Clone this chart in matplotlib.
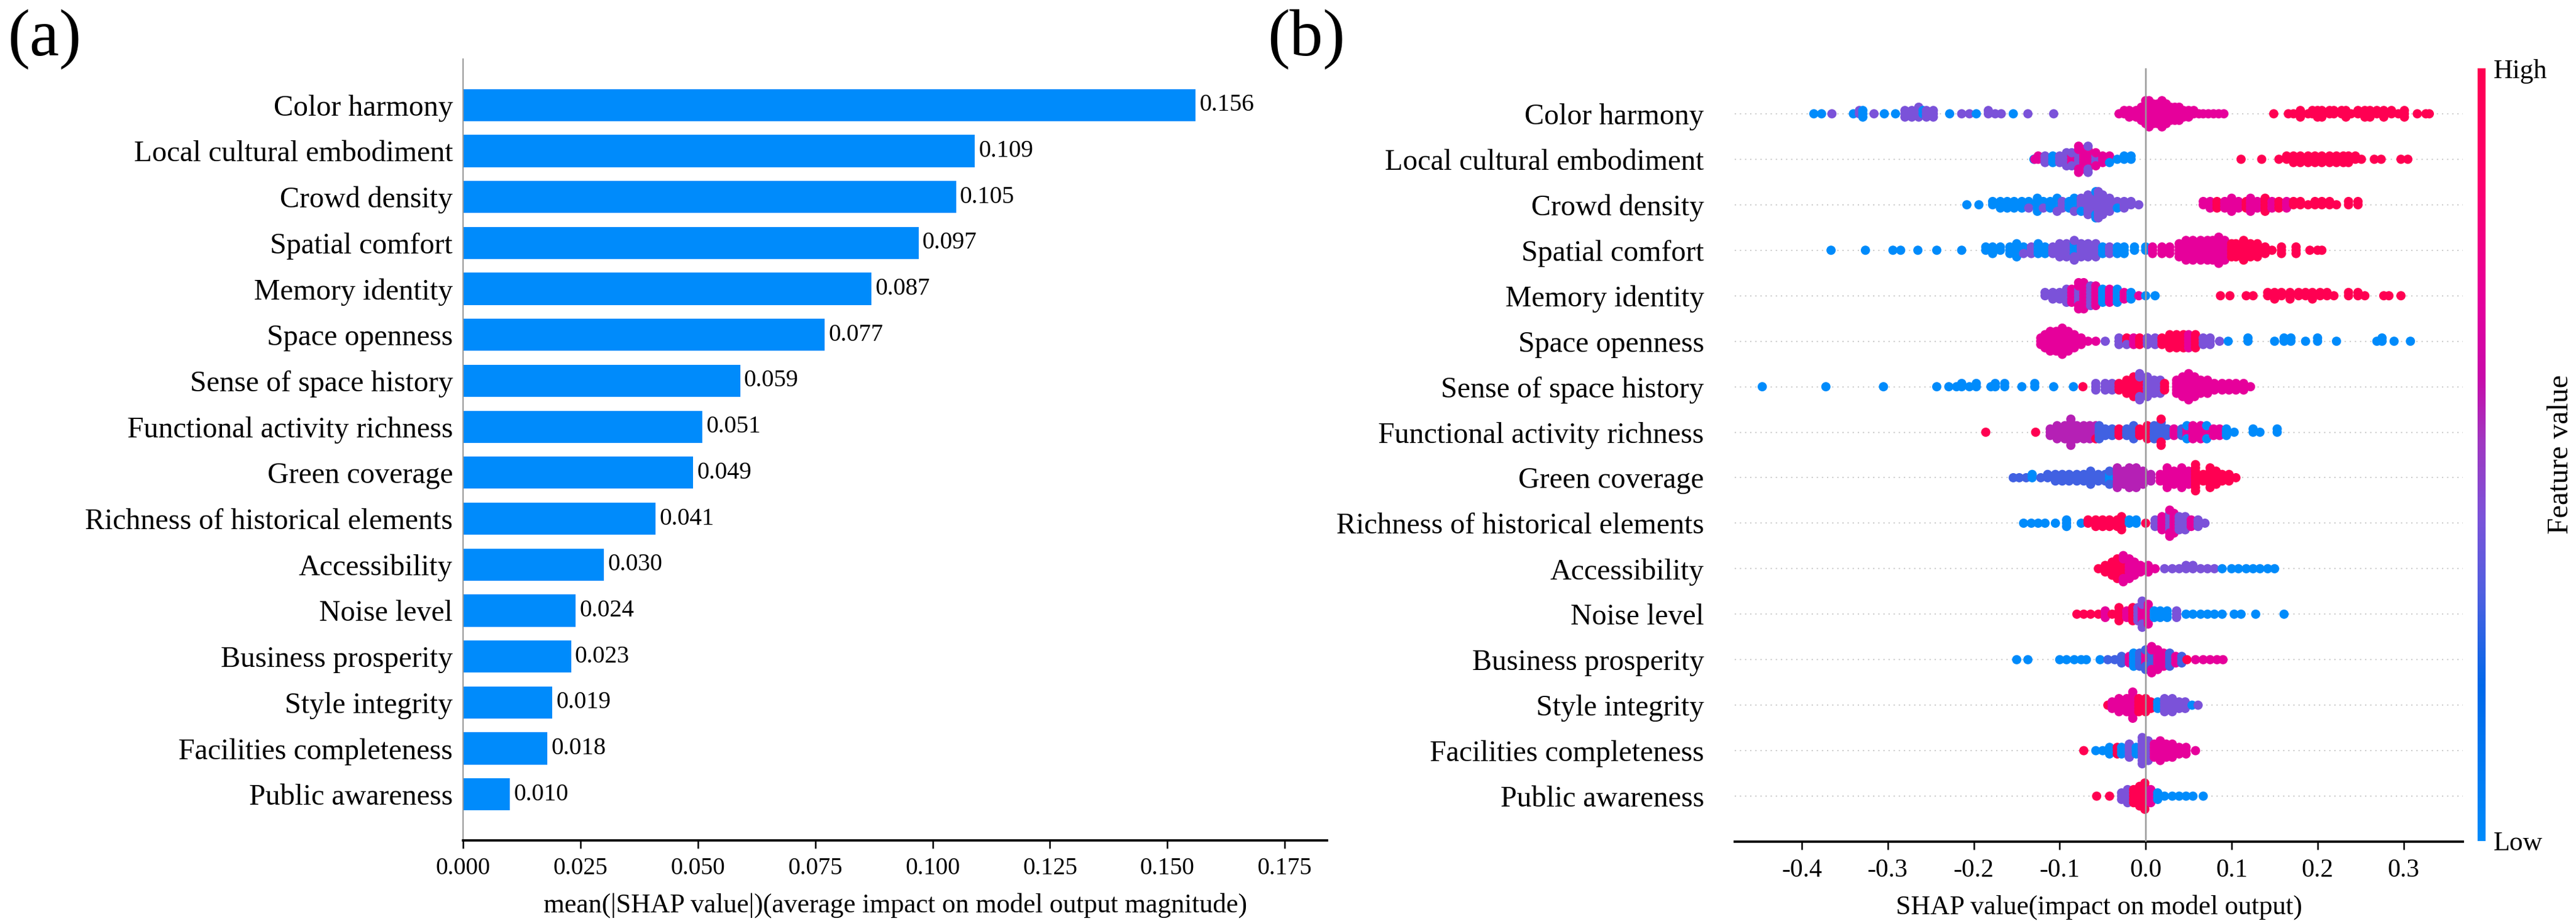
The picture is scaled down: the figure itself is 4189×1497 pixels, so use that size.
import numpy as np
import matplotlib
matplotlib.use("Agg")
import matplotlib.pyplot as plt
from matplotlib.colors import LinearSegmentedColormap
from matplotlib.cm import ScalarMappable

FONT = "Liberation Serif"
plt.rcParams["font.family"] = FONT
plt.rcParams["font.serif"] = [FONT, "DejaVu Serif"]
plt.rcParams["axes.unicode_minus"] = False

# =========================
# Data
# =========================
features = [
    "Color harmony", "Local cultural embodiment", "Crowd density", "Spatial comfort",
    "Memory identity", "Space openness", "Sense of space history",
    "Functional activity richness", "Green coverage", "Richness of historical elements",
    "Accessibility", "Noise level", "Business prosperity", "Style integrity",
    "Facilities completeness", "Public awareness",
]
mean_abs_shap = [0.156, 0.109, 0.105, 0.097, 0.087, 0.077, 0.059, 0.051,
                 0.049, 0.041, 0.030, 0.024, 0.023, 0.019, 0.018, 0.010]

B, V, P, M, K, R = 0.0, 0.3, 0.42, 0.56, 0.70, 1.0

# beeswarm points per feature: (shap value, number of points, feature value)
color_harmony = [
    (-0.386, 1, B), (-0.377, 1, B), (-0.365, 1, P), (-0.340, 1, B), (-0.333, 2, P), (-0.329, 3, B),
    (-0.316, 1, P), (-0.304, 1, B), (-0.291, 1, B), (-0.280, 3, P), (-0.272, 3, P), (-0.264, 4, P),
    (-0.259, 2, B), (-0.255, 3, P), (-0.247, 3, P), (-0.228, 1, B), (-0.214, 1, P), (-0.205, 1, P),
    (-0.197, 1, B), (-0.183, 2, P), (-0.175, 1, P), (-0.168, 1, P), (-0.154, 1, B), (-0.137, 1, P),
    (-0.107, 1, P),
    (-0.031, 1, K), (-0.025, 2, K), (-0.019, 3, K), (-0.011, 3, K), (-0.005, 5, K), (0.000, 8, K),
    (0.004, 9, K), (0.009, 7, K), (0.014, 7, K), (0.019, 9, K), (0.024, 7, K), (0.029, 5, K),
    (0.034, 5, K), (0.039, 5, K), (0.044, 3, K), (0.050, 3, K), (0.056, 2, K), (0.062, 1, K),
    (0.067, 1, K), (0.073, 1, K), (0.079, 1, K), (0.085, 1, K), (0.091, 1, K),
    (0.149, 1, R), (0.166, 1, R), (0.172, 1, R), (0.180, 3, R), (0.189, 1, R), (0.194, 2, R),
    (0.200, 3, R), (0.205, 3, R), (0.214, 2, R), (0.219, 2, R), (0.228, 2, R), (0.233, 3, R),
    (0.239, 1, R), (0.247, 2, R), (0.255, 3, R), (0.261, 3, R), (0.269, 2, R), (0.277, 3, R),
    (0.286, 2, R), (0.294, 1, R), (0.301, 3, R), (0.316, 1, R), (0.326, 1, R), (0.330, 1, R),
]
local_cultural = [
    (-0.130, 1, B), (-0.129, 1, K), (-0.125, 2, K), (-0.117, 3, P), (-0.108, 3, B), (-0.100, 3, P),
    (-0.092, 5, P), (-0.086, 3, K), (-0.086, 2, P), (-0.078, 5, P), (-0.078, 4, K), (-0.072, 7, K),
    (-0.067, 6, K), (-0.067, 3, P), (-0.058, 3, P), (-0.058, 2, K), (-0.050, 3, K), (-0.042, 2, K),
    (-0.042, 1, B), (-0.033, 1, B), (-0.025, 2, B), (-0.017, 2, B),
    (0.111, 1, R), (0.135, 1, R), (0.155, 1, R), (0.164, 2, R), (0.172, 3, R), (0.180, 3, R),
    (0.189, 3, R), (0.197, 3, R), (0.205, 3, R), (0.214, 3, R), (0.222, 3, R), (0.230, 3, R),
    (0.236, 3, R), (0.244, 2, R), (0.251, 1, R), (0.266, 1, R), (0.274, 1, R), (0.297, 1, R),
    (0.305, 1, R),
]
crowd_density = [
    (-0.208, 1, B), (-0.194, 1, B), (-0.178, 2, B), (-0.169, 3, B), (-0.161, 3, B), (-0.153, 3, B),
    (-0.144, 3, B), (-0.136, 2, B), (-0.136, 1, P), (-0.126, 5, B), (-0.119, 2, B), (-0.119, 1, P),
    (-0.111, 3, B), (-0.103, 4, B), (-0.103, 1, P), (-0.097, 3, P), (-0.089, 3, B), (-0.083, 4, B),
    (-0.083, 1, P), (-0.075, 4, P), (-0.075, 1, B), (-0.067, 7, P), (-0.058, 6, P), (-0.058, 3, B),
    (-0.055, 9, P), (-0.050, 7, P), (-0.042, 5, P), (-0.033, 2, P), (-0.033, 1, B), (-0.025, 3, P),
    (-0.017, 2, P), (-0.008, 1, P),
    (0.067, 2, K), (0.075, 3, K), (0.083, 3, R), (0.092, 3, K), (0.100, 5, K), (0.108, 3, K),
    (0.117, 3, R), (0.122, 5, K), (0.130, 3, K), (0.139, 5, R), (0.147, 3, K), (0.155, 3, R),
    (0.164, 3, K), (0.172, 2, R), (0.180, 2, R), (0.189, 1, R), (0.197, 2, R), (0.205, 2, R),
    (0.214, 2, R), (0.222, 1, R), (0.236, 2, R), (0.247, 2, R),
]
spatial_comfort = [
    (-0.366, 1, B), (-0.326, 1, B), (-0.294, 1, B), (-0.285, 1, B), (-0.265, 1, B), (-0.243, 1, B),
    (-0.214, 1, B), (-0.186, 2, B), (-0.178, 3, B), (-0.169, 2, B), (-0.158, 3, B), (-0.150, 5, B),
    (-0.142, 2, B), (-0.142, 1, P), (-0.133, 3, P), (-0.125, 4, B), (-0.117, 3, B), (-0.108, 3, P),
    (-0.100, 5, P), (-0.092, 5, P), (-0.083, 4, B), (-0.083, 3, P), (-0.075, 5, P), (-0.067, 5, P),
    (-0.058, 5, P), (-0.050, 3, B), (-0.042, 3, P), (-0.033, 3, B), (-0.025, 3, B), (-0.013, 2, B),
    (0.000, 2, B),
    (0.008, 3, K), (0.019, 3, K), (0.028, 3, K), (0.039, 5, K), (0.047, 7, K), (0.055, 7, K),
    (0.064, 7, K), (0.072, 7, K), (0.078, 7, K), (0.085, 9, K), (0.092, 7, K), (0.100, 5, R),
    (0.105, 5, R), (0.114, 7, R), (0.122, 5, R), (0.130, 5, R), (0.139, 3, R), (0.147, 1, R),
    (0.158, 3, R), (0.175, 3, R), (0.191, 1, R), (0.200, 1, R), (0.205, 1, R),
]
memory_identity = [
    (-0.117, 2, P), (-0.108, 3, P), (-0.100, 3, P), (-0.092, 5, P), (-0.086, 5, K), (-0.078, 5, P),
    (-0.078, 4, K), (-0.072, 9, K), (-0.064, 7, P), (-0.058, 7, K), (-0.050, 5, B), (-0.042, 5, K),
    (-0.033, 5, B), (-0.025, 3, K), (-0.017, 3, B), (-0.008, 1, K), (0.000, 1, B), (0.011, 1, B),
    (0.087, 1, R), (0.098, 1, R), (0.117, 1, R), (0.125, 1, R), (0.142, 2, R), (0.150, 3, R),
    (0.158, 2, R), (0.168, 3, R), (0.178, 2, R), (0.186, 2, R), (0.194, 3, R), (0.203, 2, R),
    (0.211, 2, R), (0.219, 1, R), (0.236, 2, R), (0.247, 2, R), (0.255, 1, R), (0.277, 1, R),
    (0.283, 1, R), (0.297, 1, R),
]
space_openness = [
    (-0.122, 3, K), (-0.117, 5, K), (-0.111, 7, K), (-0.104, 7, K), (-0.097, 9, K), (-0.090, 7, K),
    (-0.083, 5, K), (-0.075, 3, K), (-0.067, 1, K), (-0.058, 1, K), (-0.047, 1, P), (-0.031, 3, P),
    (-0.022, 2, R), (-0.022, 1, P), (-0.014, 3, K), (-0.007, 3, R), (0.002, 3, P), (0.011, 3, P),
    (0.019, 3, R), (0.028, 5, R), (0.036, 5, R), (0.044, 5, R), (0.050, 5, K), (0.058, 5, R),
    (0.067, 3, P), (0.075, 3, P), (0.086, 1, P), (0.096, 1, B), (0.119, 2, B), (0.150, 1, B),
    (0.161, 2, B), (0.169, 2, B), (0.186, 1, B), (0.200, 2, B), (0.222, 1, B), (0.269, 1, B),
    (0.275, 2, B), (0.289, 1, B), (0.308, 1, B),
]
sense_history = [
    (-0.446, 1, B), (-0.372, 1, B), (-0.305, 1, B), (-0.243, 1, B), (-0.229, 1, B), (-0.220, 1, B),
    (-0.214, 2, B), (-0.205, 1, B), (-0.197, 2, B), (-0.180, 1, B), (-0.175, 2, B), (-0.164, 2, B),
    (-0.144, 1, B), (-0.129, 2, B), (-0.107, 1, B), (-0.084, 1, B), (-0.073, 1, R), (-0.058, 3, P),
    (-0.047, 3, P), (-0.039, 3, P), (-0.031, 3, R), (-0.022, 5, R), (-0.014, 7, R), (-0.007, 5, R),
    (-0.007, 4, P), (0.002, 7, P), (0.010, 5, P), (0.017, 5, P), (0.022, 3, R), (0.036, 5, K),
    (0.043, 7, K), (0.050, 9, K), (0.057, 7, K), (0.064, 5, K), (0.072, 5, K), (0.080, 3, K),
    (0.089, 3, K), (0.097, 3, K), (0.105, 3, K), (0.114, 3, K), (0.122, 1, K),
]
functional_activity = [
    (-0.186, 1, R), (-0.128, 1, R), (-0.111, 3, M), (-0.103, 5, M), (-0.094, 5, M), (-0.087, 9, M),
    (-0.080, 5, M), (-0.072, 5, M), (-0.065, 5, M), (-0.058, 4, M), (-0.058, 1, R), (-0.054, 5, V),
    (-0.047, 3, V), (-0.039, 3, V), (-0.031, 3, R), (-0.022, 3, V), (-0.014, 5, V), (-0.007, 3, R),
    (0.002, 5, R), (0.010, 5, V), (0.018, 6, V), (0.018, 3, R), (0.025, 3, V), (0.033, 3, K),
    (0.042, 3, V), (0.048, 3, K), (0.048, 2, B), (0.055, 5, K), (0.064, 5, K), (0.071, 3, K),
    (0.071, 2, B), (0.079, 3, K), (0.086, 3, K), (0.094, 3, B), (0.103, 1, B), (0.125, 2, B),
    (0.133, 1, B), (0.153, 2, B),
]
green_coverage = [
    (-0.154, 1, V), (-0.147, 1, V), (-0.139, 1, V), (-0.132, 2, B), (-0.122, 1, V), (-0.114, 2, V),
    (-0.105, 3, V), (-0.097, 3, V), (-0.089, 3, V), (-0.080, 3, V), (-0.072, 3, V), (-0.064, 5, V),
    (-0.055, 3, V), (-0.047, 3, V), (-0.042, 3, B), (-0.042, 2, V), (-0.033, 7, M), (-0.025, 5, M),
    (-0.019, 7, M), (-0.011, 7, M), (-0.003, 5, M), (0.006, 3, M), (0.017, 3, K), (0.025, 7, K),
    (0.033, 5, K), (0.042, 7, K), (0.050, 5, K), (0.058, 9, R), (0.067, 3, R), (0.075, 7, R),
    (0.082, 5, R), (0.089, 3, R), (0.097, 3, R), (0.105, 1, R),
]
historical_elements = [
    (-0.142, 1, B), (-0.133, 1, B), (-0.125, 1, B), (-0.117, 1, B), (-0.105, 1, B), (-0.092, 3, B),
    (-0.075, 1, B), (-0.067, 2, R), (-0.058, 3, R), (-0.050, 3, R), (-0.042, 3, R), (-0.033, 3, R),
    (-0.028, 5, R), (-0.019, 2, B), (-0.011, 2, B), (0.000, 1, R), (0.011, 3, P), (0.019, 5, K),
    (0.028, 6, P), (0.028, 3, K), (0.033, 7, K), (0.039, 5, P), (0.046, 5, P), (0.053, 3, K),
    (0.061, 3, P), (0.069, 1, P),
]
accessibility = [
    (-0.055, 1, R), (-0.047, 3, R), (-0.039, 5, R), (-0.033, 7, R), (-0.026, 5, R), (-0.026, 4, K),
    (-0.019, 7, K), (-0.013, 5, K), (-0.006, 3, K), (0.003, 3, K), (0.011, 1, K), (0.022, 1, P),
    (0.031, 1, P), (0.039, 1, P), (0.047, 2, P), (0.055, 2, P), (0.064, 1, P), (0.072, 1, P),
    (0.080, 1, P), (0.089, 1, B), (0.100, 1, B), (0.108, 1, B), (0.117, 1, B), (0.125, 1, B),
    (0.133, 1, B), (0.142, 1, B), (0.150, 1, B),
]
noise_level = [
    (-0.080, 1, R), (-0.072, 1, R), (-0.064, 1, R), (-0.055, 1, R), (-0.047, 3, K), (-0.039, 1, R),
    (-0.031, 5, R), (-0.022, 3, K), (-0.015, 5, R), (-0.009, 5, P), (-0.004, 5, K), (-0.004, 4, P),
    (0.003, 7, K), (0.010, 3, B), (0.017, 3, B), (0.025, 3, B), (0.036, 3, P), (0.047, 1, B),
    (0.055, 1, B), (0.064, 1, B), (0.072, 1, B), (0.080, 1, B), (0.089, 1, B), (0.103, 1, B),
    (0.111, 1, B), (0.128, 1, B), (0.161, 1, B),
]
business_prosperity = [
    (-0.150, 1, B), (-0.137, 1, B), (-0.100, 1, B), (-0.092, 1, B), (-0.083, 1, B), (-0.075, 1, B),
    (-0.069, 1, B), (-0.053, 1, B), (-0.044, 1, V), (-0.036, 1, V), (-0.028, 3, V), (-0.019, 3, K),
    (-0.014, 5, B), (-0.007, 5, V), (0.000, 4, K), (0.000, 3, V), (0.007, 5, V), (0.007, 4, K),
    (0.014, 7, K), (0.021, 5, K), (0.028, 5, V), (0.035, 3, K), (0.042, 3, V), (0.048, 1, R),
    (0.058, 1, K), (0.067, 1, K), (0.075, 1, K), (0.083, 1, K), (0.090, 1, K),
]
style_integrity = [
    (-0.044, 1, R), (-0.039, 3, K), (-0.031, 5, K), (-0.022, 5, K), (-0.015, 9, K), (-0.008, 5, R),
    (0.000, 5, R), (0.006, 3, R), (0.014, 3, B), (0.022, 5, P), (0.031, 5, P), (0.039, 3, P),
    (0.046, 3, P), (0.054, 1, B), (0.061, 1, P),
]
facilities_completeness = [
    (-0.072, 1, R), (-0.058, 1, B), (-0.050, 1, B), (-0.042, 3, B), (-0.033, 3, R), (-0.028, 3, B),
    (-0.019, 5, P), (-0.011, 3, B), (-0.004, 9, P), (0.003, 7, P), (0.010, 5, K), (0.017, 7, K),
    (0.024, 5, K), (0.031, 5, K), (0.039, 3, K), (0.047, 3, K), (0.058, 1, K),
]
public_awareness = [
    (-0.057, 1, R), (-0.042, 1, R), (-0.028, 3, P), (-0.021, 5, P), (-0.014, 5, R), (-0.007, 7, R),
    (-0.001, 9, R), (0.006, 5, K), (0.014, 3, B), (0.022, 1, B), (0.031, 1, B), (0.039, 1, B),
    (0.047, 1, B), (0.055, 1, B), (0.067, 1, B),
]

swarm_rows = [
    color_harmony, local_cultural, crowd_density, spatial_comfort, memory_identity,
    space_openness, sense_history, functional_activity, green_coverage, historical_elements,
    accessibility, noise_level, business_prosperity, style_integrity,
    facilities_completeness, public_awareness,
]

bar_ticks = [0.000, 0.025, 0.050, 0.075, 0.100, 0.125, 0.150, 0.175]
swarm_ticks = [-0.4, -0.3, -0.2, -0.1, 0.0, 0.1, 0.2, 0.3]

# =========================
# Style
# =========================
BAR_BLUE = "#008bfb"
red_blue = LinearSegmentedColormap.from_list("red_blue", [
    (0.00, "#008bfb"), (0.20, "#0068ea"), (0.32, "#4f5fe0"), (0.42, "#7b52d9"),
    (0.52, "#a136c0"), (0.60, "#c80aaa"), (0.70, "#e6009c"), (0.86, "#ff006c"),
    (1.00, "#ff0052"),
])

W, H = 4189, 1497
DPI = 300
fig = plt.figure(figsize=(W / DPI, H / DPI), dpi=DPI)


def px_axes(x0, y0, x1, y1):
    # pixel box (left, top, right, bottom) -> figure fraction rect
    return [x0 / W, 1 - y1 / H, (x1 - x0) / W, (y1 - y0) / H]


n = len(features)
ypos = np.arange(n)[::-1]

# =========================
# (a) mean |SHAP| bars
# =========================
ax1 = fig.add_axes(px_axes(753, 96, 2158, 1366))
ax1.barh(ypos, mean_abs_shap, height=0.7, color=BAR_BLUE)
for y, v in zip(ypos, mean_abs_shap):
    ax1.text(v + 0.0008, y, f"{v:.3f}", va="center", ha="left", fontsize=9.5, family=FONT)

ax1.set_ylim(-1, n)
ax1.set_xlim(0, 0.184)
ax1.set_xticks(bar_ticks)
ax1.set_xticklabels([f"{t:.3f}" for t in bar_ticks], family=FONT)
ax1.set_yticks(ypos)
ax1.set_yticklabels(features, fontsize=11.5, family=FONT)
ax1.tick_params(axis="y", length=0, pad=4)
ax1.tick_params(axis="x", labelsize=9.5, length=3, width=0.6)
ax1.spines["top"].set_visible(False)
ax1.spines["right"].set_visible(False)
ax1.spines["left"].set_color("#999999")
ax1.spines["left"].set_linewidth(0.5)
ax1.spines["bottom"].set_linewidth(0.9)
ax1.set_xlabel("mean(|SHAP value|)(average impact on model output magnitude)",
               fontsize=10.5, family=FONT, labelpad=5)


# =========================
# (b) beeswarm
# =========================
def swarm_offsets(xs, row_height=0.4):
    order = np.argsort(xs, kind="stable")
    ys = np.zeros(len(xs))
    layer, last = 0, None
    for i in order:
        if xs[i] != last:
            layer = 0
        ys[i] = np.ceil(layer / 2) * ((layer % 2) * 2 - 1)
        layer += 1
        last = xs[i]
    ys *= 0.9 * (row_height / np.max(ys + 1))
    return ys


ax2 = fig.add_axes(px_axes(2821, 111, 4005, 1368))
for y, row in zip(ypos, swarm_rows):
    ax2.axhline(y, color="#cccccc", lw=0.5, dashes=(1, 3), zorder=-1)
    xs = np.repeat([r[0] for r in row], [r[1] for r in row])
    cs = np.repeat([r[2] for r in row], [r[1] for r in row])
    ys = swarm_offsets(xs)
    ax2.scatter(xs, y + ys, c=cs, cmap=red_blue, vmin=0, vmax=1, s=13,
                linewidths=0, zorder=3)

ax2.axvline(0, color="#999999", lw=0.6, zorder=4)
ax2.set_ylim(-1, n)
ax2.set_xlim(-0.478, 0.369)
ax2.set_xticks(swarm_ticks)
ax2.set_xticklabels([f"{t:.1f}" for t in swarm_ticks], family=FONT)
ax2.set_yticks(ypos)
ax2.set_yticklabels(features, fontsize=11.5, family=FONT)
ax2.tick_params(axis="y", length=0, pad=12)
ax2.tick_params(axis="x", labelsize=10, length=3, width=0.6)
for side in ("top", "right", "left"):
    ax2.spines[side].set_visible(False)
ax2.spines["bottom"].set_linewidth(0.9)
ax2.set_xlabel("SHAP value(impact on model output)", fontsize=10.5, family=FONT, labelpad=5)

# colour bar
cax = fig.add_axes(px_axes(4029, 111, 4042, 1367))
cb = fig.colorbar(ScalarMappable(cmap=red_blue), cax=cax, ticks=[0, 1])
cb.set_ticklabels(["Low", "High"])
cb.ax.tick_params(labelsize=10.5, length=0, pad=3)
for lab in cb.ax.get_yticklabels():
    lab.set_family(FONT)
cb.outline.set_visible(False)
cb.set_label("Feature value", fontsize=11.5, labelpad=0, family=FONT)

# panel labels
fig.text(0.003, 0.99, "(a)", fontsize=26, va="top", ha="left", family=FONT)
fig.text(0.492, 0.99, "(b)", fontsize=26, va="top", ha="left", family=FONT)

fig.savefig("out.png", dpi=DPI)
plt.close(fig)
